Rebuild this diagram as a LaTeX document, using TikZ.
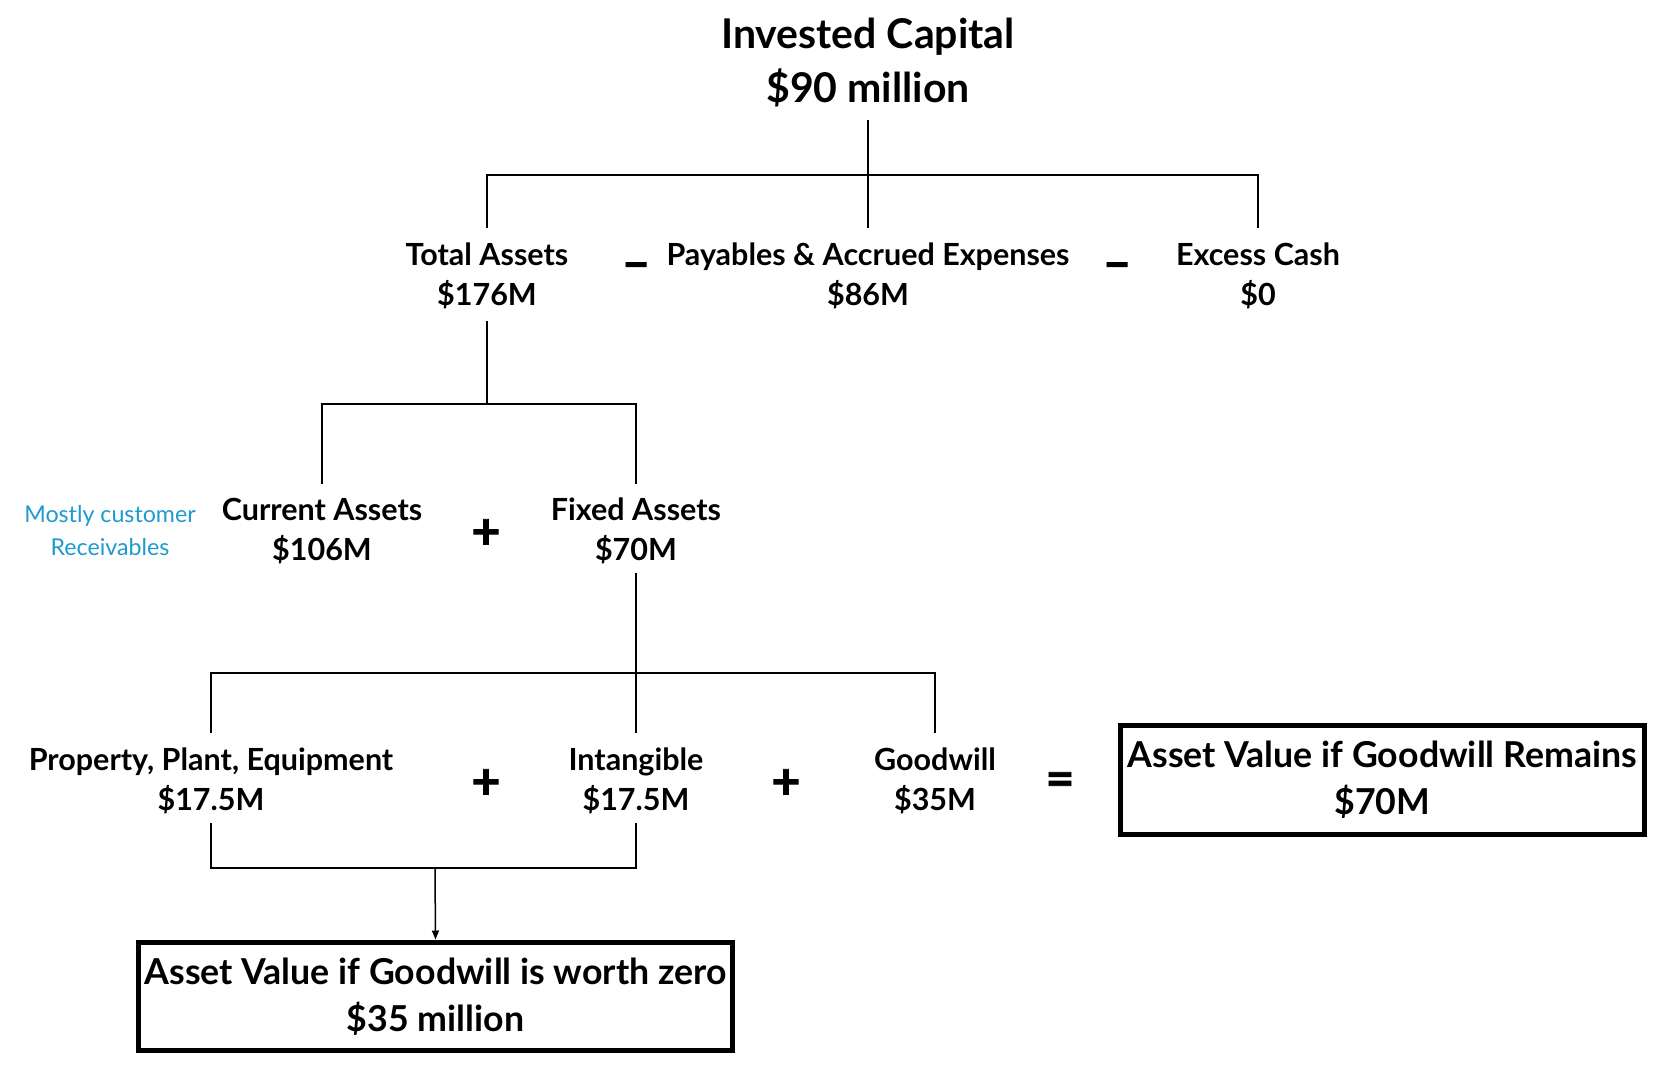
\documentclass[tikz,border=0pt]{standalone}
\usepackage{fontspec}
\setmainfont{Lato}
\usetikzlibrary{arrows.meta}
\definecolor{noteblue}{HTML}{1E9AD0}
\begin{document}
\begin{tikzpicture}[x=1pt,y=-1pt,
  lbl/.style={font=\fontsize{30.5}{40}\selectfont\bfseries, align=center, inner sep=0},
  ttl/.style={font=\fontsize{41}{54}\selectfont\bfseries, align=center, inner sep=0},
  op/.style={font=\fontsize{50}{50}\selectfont\bfseries\addfontfeatures{FakeBold=1.5}, inner sep=0},
  conn/.style={line width=2pt},
  res/.style={draw, line width=5pt, font=\fontsize{35.7}{47}\selectfont\bfseries, align=center, inner sep=0},
  note/.style={font=\fontsize{23.2}{33}\selectfont, text=noteblue, align=center, inner sep=0}]
\useasboundingbox (0,0) rectangle (1666,1066);

% nodes
\node[ttl] (ic) at (868,63) {Invested Capital\\\$90 million};
\node[lbl] (ta) at (487,275.5) {Total Assets\\\$176M};
\node[lbl] (pa) at (868,275.5) {Payables \& Accrued Expenses\\\$86M};
\node[lbl] (ec) at (1258,275.5) {Excess Cash\\\$0};
\node[op] (m1) at (636,271) {–};
\node[op] (m2) at (1117,271) {–};

\node[note] (mc) at (110,530.5) {Mostly customer\\Receivables};
\node[lbl] (ca) at (322,531) {Current Assets\\\$106M};
\node[lbl] (fa) at (636,531) {Fixed Assets\\\$70M};
\node[op] (p1) at (486,534) {+};

\node[lbl] (ppe) at (211,780.5) {Property, Plant, Equipment\\\$17.5M};
\node[lbl] (in) at (636,780.5) {Intangible\\\$17.5M};
\node[lbl] (gw) at (935,780.5) {Goodwill\\\$35M};
\node[op] (p2) at (486,784) {+};
\node[op] (p3) at (786,784) {+};
\node[op] (eq) at (1060,784) {=};

\node[res, minimum width=524.5pt, minimum height=109pt] (rb) at (1382.25,780) {Asset Value if Goodwill Remains\\\$70M};
\node[res, minimum width=594pt, minimum height=108.5pt] (lb) at (435.5,996.25) {Asset Value if Goodwill is worth zero\\\$35 million};

% junction coordinates
\coordinate (icb) at (868,120);
\coordinate (j1) at (868,175);
\coordinate (tat) at (487,228);
\coordinate (pat) at (868,228);
\coordinate (ect) at (1258,228);

\coordinate (tab) at (487,321);
\coordinate (j2) at (487,404);
\coordinate (cat) at (322,484);
\coordinate (fat) at (636,484);

\coordinate (fab) at (636,573);
\coordinate (j3) at (636,673);
\coordinate (ppet) at (211,733);
\coordinate (int) at (636,733);
\coordinate (gwt) at (935,733);

\coordinate (ppeb) at (211,823);
\coordinate (inb) at (636,823);
\coordinate (j4) at (435,868);

% connectors
\draw[conn] (icb) -- (pat);
\draw[conn] (tat) -- (tat|-j1) -- (ect|-j1) -- (ect);

\draw[conn] (tab) -- (j2);
\draw[conn] (cat) -- (cat|-j2) -- (fat|-j2) -- (fat);

\draw[conn] (fab) -- (int);
\draw[conn] (ppet) -- (ppet|-j3) -- (gwt|-j3) -- (gwt);

\draw[conn] (ppeb) -- (ppeb|-j4) -- (inb|-j4) -- (inb);
\draw[line width=1.5pt, -{Triangle[length=9pt,width=7pt]}] (j4) -- (lb.north);
\end{tikzpicture}
\end{document}
